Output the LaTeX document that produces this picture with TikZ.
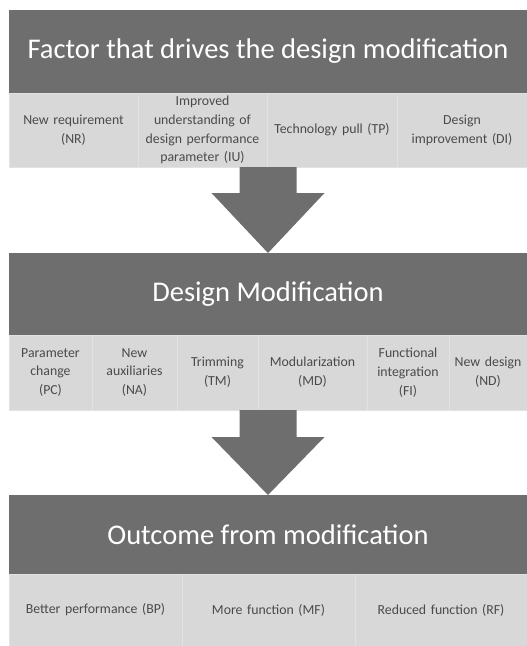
\documentclass[tikz,border=0pt]{standalone}
\usepackage{fontspec}
\setmainfont{Carlito}
\definecolor{hdrgray}{HTML}{6E6E6E}
\definecolor{cellgray}{HTML}{D8D8D8}
\definecolor{celltext}{HTML}{4A4A4A}
\definecolor{divline}{HTML}{E2E2E2}
\begin{document}
\begin{tikzpicture}[x=1pt,y=-1pt,
  hdr/.style={fill=hdrgray,text=white,inner sep=0pt,outer sep=0pt,anchor=north west,
    minimum width=518pt,font=\fontsize{28.5}{32}\selectfont},
  cell/.style={fill=cellgray,draw=divline,line width=0.8pt,text=celltext,inner sep=0pt,outer sep=0pt,
    anchor=north west,align=center,font=\fontsize{13.8}{18.8}\selectfont},
  blockarrow/.style={fill=hdrgray}]
\useasboundingbox (0,0) rectangle (527,646);
\fill[white] (0,0) rectangle (527,646);
% Level 1
\node[hdr,minimum height=83pt] (h1) at (9,10) {\raisebox{-4pt}{Factor that drives the design modification}};
\node[cell,minimum width=129pt,minimum height=74pt,text width=126pt] (nr) at (9,93) {New requirement\\(NR)};
\node[cell,minimum width=129pt,minimum height=74pt,text width=126pt] (iu) at (138,93) {Improved\\understanding of\\design performance\\parameter (IU)};
\node[cell,minimum width=130pt,minimum height=74pt,text width=127pt] (tp) at (267,93) {Technology pull (TP)};
\node[cell,minimum width=130pt,minimum height=74pt,text width=127pt] (di) at (397,93) {Design\\improvement (DI)};
% Level 2
\node[hdr,minimum height=82pt] (h2) at (9,253) {Design Modification};
\node[cell,minimum width=83pt,minimum height=75pt,text width=81pt] (pc) at (9,335) {Parameter\\change\\(PC)};
\node[cell,minimum width=85pt,minimum height=75pt,text width=83pt] (na) at (92,335) {New\\auxiliaries\\(NA)};
\node[cell,minimum width=81pt,minimum height=75pt,text width=79pt] (tm) at (177,335) {Trimming\\(TM)};
\node[cell,minimum width=109pt,minimum height=75pt,text width=107pt] (md) at (258,335) {Modularization\\(MD)};
\node[cell,minimum width=82pt,minimum height=75pt,text width=80pt] (fi) at (367,335) {Functional\\integration\\(FI)};
\node[cell,minimum width=78pt,minimum height=75pt,text width=77pt] (nd) at (449,335) {New design\\(ND)};
% Level 3
\node[hdr,minimum height=79pt] (h3) at (9,495) {Outcome from modification};
\node[cell,minimum width=173pt,minimum height=72pt,text width=170pt] (bp) at (9,574) {Better performance (BP)};
\node[cell,minimum width=173pt,minimum height=72pt,text width=170pt] (mf) at (182,574) {More function (MF)};
\node[cell,minimum width=172pt,minimum height=72pt,text width=169pt] (rf) at (355,574) {Reduced function (RF)};
% Arrow 1
\coordinate (a1s) at (iu.south east);
\fill[blockarrow] (a1s -| h2.north) ++(-28.5,0) -- ++(0,26) -- ++(-28,0) -- (h2.north) -- ++(56.5,-60) -- ++(-28,0) -- ++(0,-26) -- cycle;
% Arrow 2
\coordinate (a2s) at (md.south west);
\fill[blockarrow] (a2s -| h3.north) ++(-28.5,0) -- ++(0,27) -- ++(-28,0) -- (h3.north) -- ++(56.5,-58) -- ++(-28,0) -- ++(0,-27) -- cycle;
\end{tikzpicture}
\end{document}
